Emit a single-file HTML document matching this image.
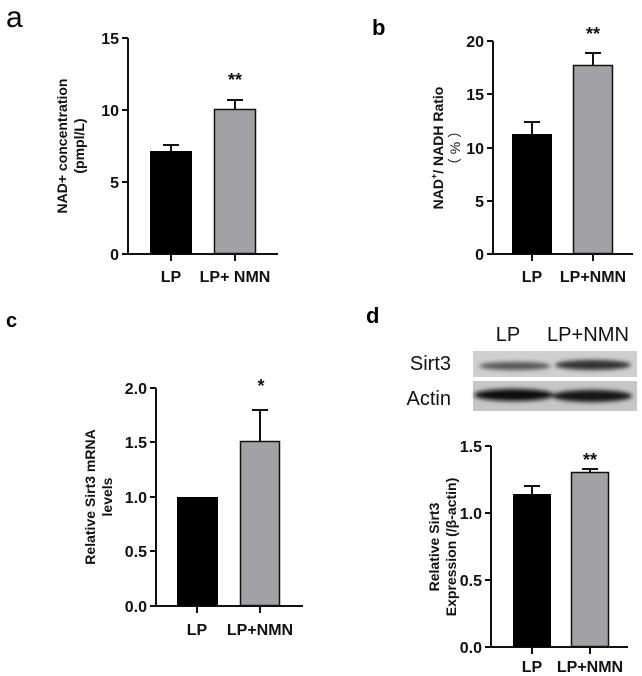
<!DOCTYPE html>
<html><head><meta charset="utf-8"><style>
html,body{margin:0;padding:0;background:#fff}
svg{display:block}
</style></head><body>
<svg width="642" height="676" viewBox="0 0 642 676" xmlns="http://www.w3.org/2000/svg" font-family="Liberation Sans, Arial, sans-serif">
<g stroke="#111" stroke-width="2" fill="none">
<path d="M128 38V254H278"/>
<path d="M122 38H128M122 110H128M122 182H128M122 254H128"/>
<path d="M171 254V261M235 254V261"/>
<path d="M493 41V254H633"/>
<path d="M487 41H493M487 94H493M487 148H493M487 201H493M487 254H493"/>
<path d="M532 254V261M593 254V261"/>
<path d="M156 388V606H303"/>
<path d="M150 388H156M150 442H156M150 497H156M150 551H156M150 606H156"/>
<path d="M197 606V613M260 606V613"/>
<path d="M491 446V647H628"/>
<path d="M485 446H491M485 513H491M485 580H491M485 647H491"/>
<path d="M532 647V654M590 647V654"/>
</g>
<rect x="150" y="151" width="42" height="103" fill="#000"/>
<rect x="214.5" y="109.5" width="41" height="144" fill="#a2a2a6" stroke="#111" stroke-width="1.5"/>
<path d="M171 151V145M163 145H179M235 109V100M227 100H243" stroke="#111" stroke-width="2"/>
<rect x="512" y="134" width="40" height="120" fill="#000"/>
<rect x="573.5" y="65.5" width="39" height="188" fill="#a2a2a6" stroke="#111" stroke-width="1.5"/>
<path d="M532 134V122M524 122H540M593 65V53M585 53H601" stroke="#111" stroke-width="2"/>
<rect x="177" y="497" width="41" height="109" fill="#000"/>
<rect x="240.5" y="441.5" width="39" height="164" fill="#a2a2a6" stroke="#111" stroke-width="1.5"/>
<path d="M260 441V410M252 410H268" stroke="#111" stroke-width="2"/>
<rect x="513" y="494" width="38" height="153" fill="#000"/>
<rect x="571.5" y="472.5" width="37" height="174" fill="#a2a2a6" stroke="#111" stroke-width="1.5"/>
<path d="M532 494V486M524 486H540M590 472V469M582 469H598" stroke="#111" stroke-width="2"/>

<text x="6" y="27" font-size="30" fill="#000">a</text>
<text x="372" y="35" font-size="22" font-weight="bold" fill="#000">b</text>
<text x="6" y="327" font-size="20" font-weight="bold" fill="#000">c</text>
<text x="366" y="323" font-size="22" font-weight="bold" fill="#000">d</text>

<g font-size="16" font-weight="bold" fill="#111" text-anchor="end">
<text x="119" y="44">15</text><text x="119" y="116">10</text><text x="119" y="188">5</text><text x="119" y="260">0</text>
<text x="484" y="47">20</text><text x="484" y="100">15</text><text x="484" y="154">10</text><text x="484" y="207">5</text><text x="484" y="260">0</text>
<text x="147" y="394">2.0</text><text x="147" y="448">1.5</text><text x="147" y="503">1.0</text><text x="147" y="557">0.5</text><text x="147" y="612">0.0</text>
<text x="482" y="452">1.5</text><text x="482" y="519">1.0</text><text x="482" y="586">0.5</text><text x="482" y="653">0.0</text>
</g>
<g font-size="16" font-weight="bold" fill="#111" text-anchor="middle">
<text x="171" y="282">LP</text><text x="235" y="282">LP+ NMN</text>
<text x="532" y="282">LP</text><text x="593" y="282">LP+NMN</text>
<text x="197" y="635">LP</text><text x="260" y="635">LP+NMN</text>
<text x="532" y="672">LP</text><text x="590" y="672">LP+NMN</text>
</g>
<g font-size="18" font-weight="bold" text-anchor="middle" fill="#111">
<text x="235" y="86">**</text><text x="593" y="40">**</text><text x="261" y="392">*</text><text x="590" y="466">**</text>
</g>
<g font-size="14" font-weight="bold" fill="#111" text-anchor="middle">
<text transform="translate(67,146) rotate(-90)">NAD+ concentration</text>
<text transform="translate(84,146) rotate(-90)">(pmpl/L)</text>
<text transform="translate(443,148) rotate(-90)">NAD<tspan font-size="9" dy="-6">+</tspan><tspan dy="6">/ NADH Ratio</tspan></text>
<text transform="translate(460,148) rotate(-90)" font-weight="normal">（ % ）</text>
<text transform="translate(95,497) rotate(-90)">Relative Sirt3 mRNA</text>
<text transform="translate(112,497) rotate(-90)">levels</text>
<text transform="translate(439,547) rotate(-90)">Relative Sirt3</text>
<text transform="translate(456,547) rotate(-90)">Expression (/β-actin)</text>
</g>
<g font-size="20" fill="#111">
<text x="508" y="341" text-anchor="middle">LP</text>
<text x="588" y="341" text-anchor="middle" textLength="82" lengthAdjust="spacingAndGlyphs">LP+NMN</text>
<text x="451" y="370" text-anchor="end">Sirt3</text>
<text x="451" y="405" text-anchor="end">Actin</text>
</g>
<defs><filter id="bl"><feGaussianBlur stdDeviation="2"/></filter></defs>
<rect x="473" y="351" width="164" height="26" fill="#cfcfcf"/>
<rect x="473" y="381" width="164" height="30" fill="#c6c6c6"/>
<g filter="url(#bl)">
<ellipse cx="515" cy="366" rx="36" ry="4" fill="#555"/>
<ellipse cx="593" cy="365" rx="38" ry="5" fill="#333"/>
<ellipse cx="514" cy="395" rx="40" ry="6" fill="#111"/>
<ellipse cx="592" cy="396" rx="40" ry="6" fill="#161616"/>
</g>
</svg>
</body></html>
